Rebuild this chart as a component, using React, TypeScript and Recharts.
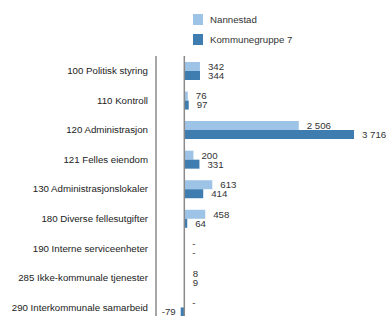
import { BarChart, Bar, XAxis, YAxis, ReferenceLine, LabelList } from "recharts";

const categories = [
  "100 Politisk styring",
  "110 Kontroll",
  "120 Administrasjon",
  "121 Felles eiendom",
  "130 Administrasjonslokaler",
  "180 Diverse fellesutgifter",
  "190 Interne serviceenheter",
  "285 Ikke-kommunale tjenester",
  "290 Interkommunale samarbeid",
];
const nannestad: (number | null)[] = [342, 76, 2506, 200, 613, 458, null, 8, null];
const kommunegruppe: (number | null)[] = [344, 97, 3716, 331, 414, 64, null, 9, -79];
const seriesNames = ["Nannestad", "Kommunegruppe 7"];

const LIGHT = "#9dc3e6";
const DARK = "#3f7db0";
const FONT = "'Liberation Sans', Arial, sans-serif";
const FS = 9.7;

const fmt = (v: number | null) =>
  v == null ? "-" : String(v).replace(/\B(?=(\d{3})+(?!\d))/g, " ");

const data = categories.map((name, i) => ({
  name,
  a: nannestad[i] ?? 0,
  b: kommunegruppe[i] ?? 0,
  aLabel: fmt(nannestad[i]),
  bLabel: fmt(kommunegruppe[i]),
}));

function ValueLabel(props: any) {
  const { x, y, width, height, value } = props;
  const s = String(value);
  const neg = s.length > 1 && s.startsWith("-");
  const end = neg ? Math.min(x, x + width) : Math.max(x, x + width);
  return (
    <text
      x={neg ? end - 5 : end + 8}
      y={y + height / 2}
      dy="0.35em"
      textAnchor={neg ? "end" : "start"}
      fontSize={FS}
      fontFamily={FONT}
      fill="#333"
    >
      {s}
    </text>
  );
}

function CategoryTick(props: any) {
  const { x, y, payload } = props;
  return (
    <text x={x} y={y} dy="0.35em" textAnchor="end" fontSize={FS} fontFamily={FONT} fill="#222">
      {payload.value}
    </text>
  );
}

function LegendBox() {
  const colors = [LIGHT, DARK];
  return (
    <svg width={150} height={50} style={{ position: "absolute", left: 190, top: 0 }}>
      {seriesNames.map((n, i) => (
        <g key={n}>
          <rect x={3} y={14 + i * 20} width={10} height={11} fill={colors[i]} />
          <text x={20} y={19.5 + i * 20} dy="0.35em" fontSize={FS} fontFamily={FONT} fill="#333">
            {n}
          </text>
        </g>
      ))}
    </svg>
  );
}

export default function App() {
  return (
    <div style={{ position: "absolute", left: 0, top: 0, width: 388, height: 316, overflow: "hidden", background: "#fff" }}>
      <style>{`body{margin:0}`}</style>
      <BarChart
        width={388}
        height={326}
        data={data}
        layout="vertical"
        margin={{ top: 56, right: 21, bottom: 4, left: 0 }}
        barGap={0}
        barCategoryGap="20%"
      >
        <XAxis type="number" domain={[-620, 4000]} hide />
        <YAxis
          type="category"
          dataKey="name"
          width={156}
          tickLine={false}
          axisLine={{ stroke: "#8a8a8a", strokeWidth: 1.5 }}
          tick={CategoryTick}
          interval={0}
        />
        <ReferenceLine x={0} stroke="#8a8a8a" strokeWidth={1.5} />
        <Bar dataKey="a" name={seriesNames[0]} fill={LIGHT} barSize={9} minPointSize={0.01} isAnimationActive={false}>
          <LabelList dataKey="aLabel" content={ValueLabel} />
        </Bar>
        <Bar dataKey="b" name={seriesNames[1]} fill={DARK} barSize={9} minPointSize={0.01} isAnimationActive={false}>
          <LabelList dataKey="bLabel" content={ValueLabel} />
        </Bar>
      </BarChart>
      <LegendBox />
    </div>
  );
}
